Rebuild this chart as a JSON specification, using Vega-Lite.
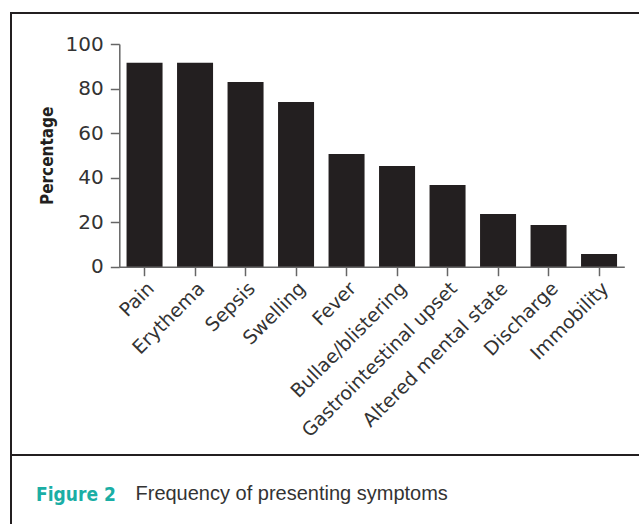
{
  "$schema": "https://vega.github.io/schema/vega-lite/v6.json",
  "autosize": "none",
  "padding": {"left": 11, "top": 13, "right": 0, "bottom": 0},
  "width": 632,
  "height": 520,
  "background": "white",
  "title": {
    "text": "Figure 2",
    "orient": "top",
    "anchor": "start",
    "frame": "group",
    "font": "DejaVu Sans Condensed, Roboto, sans-serif",
    "fontWeight": "bold",
    "fontSize": 19,
    "color": "#1aaea5",
    "baseline": "alphabetic",
    "offset": 0,
    "dx": 25,
    "dy": 507
  },
  "data": {
    "values": [
      {"symptom": "Pain", "pct": 91.6},
      {"symptom": "Erythema", "pct": 91.6},
      {"symptom": "Sepsis", "pct": 82.9},
      {"symptom": "Swelling", "pct": 74.0},
      {"symptom": "Fever", "pct": 50.6},
      {"symptom": "Bullae/blistering", "pct": 45.2},
      {"symptom": "Gastrointestinal upset", "pct": 36.7},
      {"symptom": "Altered mental state", "pct": 23.7},
      {"symptom": "Discharge", "pct": 18.7},
      {"symptom": "Immobility", "pct": 5.7}
    ]
  },
  "layer": [
    {
      "mark": {"type": "bar", "color": "#231f20"},
      "encoding": {
        "x": {
          "field": "symptom",
          "type": "nominal",
          "sort": null,
          "scale": {"range": [108.3, 613.3], "paddingInner": 0.287, "paddingOuter": 0.1435},
          "axis": {
            "offset": -266.3,
            "labelAngle": -45,
            "labelLimit": 0,
            "labelFont": "DejaVu Sans",
            "labelFontSize": 19,
            "labelColor": "#333333",
            "labelPadding": 3,
            "tickSize": 9,
            "tickColor": "#666666",
            "domainColor": "#666666",
            "domainWidth": 1.5,
            "tickWidth": 1.5,
            "title": "Frequency of presenting symptoms",
            "titleFont": "Liberation Sans",
            "titleFontWeight": "normal",
            "titleFontSize": 20,
            "titleColor": "#333333",
            "titleX": 124,
            "titleY": 232.6,
            "titleAlign": "left",
            "titleBaseline": "alphabetic",
            "titleAnchor": "start"
          }
        },
        "y": {
          "field": "pct",
          "type": "quantitative",
          "scale": {"domain": [0, 100], "range": [253.7, 31], "nice": false, "zero": true},
          "axis": {
            "offset": -108.3,
            "values": [0, 20, 40, 60, 80, 100],
            "grid": false,
            "labelFont": "DejaVu Sans",
            "labelFontSize": 20,
            "labelColor": "#333333",
            "labelPadding": 7,
            "tickSize": 9,
            "tickColor": "#666666",
            "domainColor": "#666666",
            "domainWidth": 1.5,
            "tickWidth": 1.5,
            "title": "Percentage",
            "titleFont": "DejaVu Sans Condensed, Roboto, sans-serif",
            "titleFontWeight": "bold",
            "titleFontSize": 17,
            "titleColor": "#231f20",
            "titlePadding": 9
          }
        }
      }
    },
    {
      "mark": {"type": "rule", "color": "#231f20", "strokeWidth": 2},
      "encoding": {"y": {"datum": -84.6}}
    }
  ],
  "config": {
    "view": {"stroke": "#231f20", "strokeWidth": 2}
  }
}
